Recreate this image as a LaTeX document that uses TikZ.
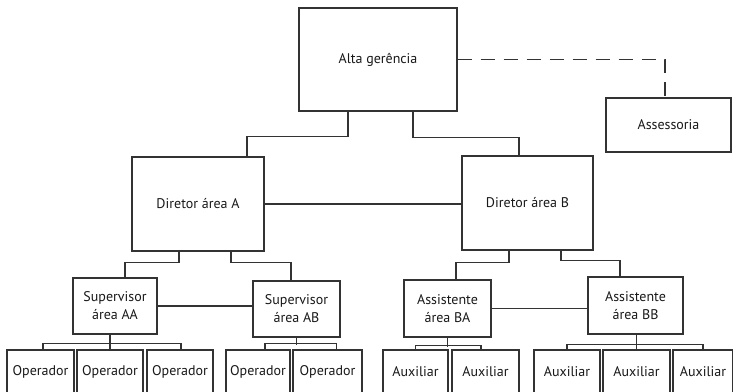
\documentclass[tikz,border=0pt]{standalone}
\usepackage{fontspec}
\setmainfont{PT Sans}
\usetikzlibrary{calc}

\begin{document}
\begin{tikzpicture}[x=1pt,y=-1pt,
            caixa/.style={draw=black!80,line width=1.2pt,fill=white,align=center,inner sep=0pt,text=black!90,font=\fontsize{14}{18}\selectfont},
            liga/.style={draw=black!80,line width=1.2pt}]
            \useasboundingbox (0,0) rectangle (733,391);
            \clip (0,0) rectangle (733,391);
            \node[caixa,minimum width=158pt,minimum height=103pt] (alta) at (378,59.5){Alta gerência};
            \node[caixa,minimum width=125pt,minimum height=54pt] (asses) at (668.5,125){Assessoria};
            \node[caixa,minimum width=132pt,minimum height=94pt] (dirA) at (198,204){Diretor área A};
            \node[caixa,minimum width=131pt,minimum height=94pt] (dirB) at (527.5,203){Diretor área B};
            \node[caixa,minimum width=84pt,minimum height=56pt] (supAA) at (115,306){Supervisor\\área AA};
            \node[caixa,minimum width=87pt,minimum height=56pt] (supAB) at (296.5,309){Supervisor\\área AB};
            \node[caixa,minimum width=87pt,minimum height=57pt] (assBA) at (447.5,308.5){Assistente\\área BA};
            \node[caixa,minimum width=95pt,minimum height=57pt] (assBB) at (635.5,305.5){Assistente\\área BB};
            \foreach \nome/\cx/\w in {op1/40.5/67,op2/110/66,op3/180/66,op4/258/64,op5/327.5/69}{
                \node[caixa,minimum width=\w pt,minimum height=44pt] (\nome) at (\cx,372){Operador};
            }
            \foreach \nome/\cx/\w in {aux1/415.5/65,aux2/485.5/67,aux3/567/66,aux4/636.5/67,aux5/703/60}{
                \node[caixa,minimum width=\w pt,minimum height=44pt] (\nome) at (\cx,372){Auxiliar};
            }
            \draw[liga,dashed,dash pattern=on 14pt off 9pt] (alta.east) -| ([xshift=-3.5pt]asses.north);
            \draw[liga] ([xshift=-30pt]alta.south) -- ++(0,25) -| ([xshift=49pt]dirA.north);
            \draw[liga] ([xshift=35pt]alta.south) -- ++(0,26) -| ([xshift=-8.5pt]dirB.north);
            \draw[liga] (dirA.east) -- (dirA.east -| dirB.west);
            \draw[liga] ([xshift=-19pt]dirA.south) -- ++(0,11) -| ([xshift=10pt]supAA.north);
            \draw[liga] ([xshift=33pt]dirA.south) -- ++(0,11) -| ([xshift=-5.5pt]supAB.north);
            \draw[liga] ([xshift=-18.5pt]dirB.south) -- ++(0,12) -| ([xshift=8.5pt]assBA.north);
            \draw[liga] ([xshift=33.5pt]dirB.south) -- ++(0,10) -| ([xshift=-15.5pt]assBB.north);
            \draw[liga] (supAA.east) -- (supAA.east -| supAB.west);
            \draw[liga] (assBA.east) -- (assBA.east -| assBB.west);
            \draw[liga] (op2.north) -- (op2.north |- supAA.south);
            \draw[liga] ([xshift=2.5pt]op1.north) -- ++(0,-6) -| ([xshift=1pt]op3.north);
            \draw[liga] (supAB.south) -- ++(0,7);
            \draw[liga] ([xshift=7pt]op4.north) -- ++(0,-6) -| ([xshift=9pt]op5.north);
            \draw[liga] (assBA.south) -- ++(0,9);
            \draw[liga] (aux1.north) -- ++(0,-4) -| ([xshift=-4.5pt]aux2.north);
            \draw[liga] (aux4.north) -- (aux4.north |- assBB.south);
            \draw[liga] (aux3.north) -- ++(0,-5) -| (aux5.north);
        \end{tikzpicture}
\end{document}
